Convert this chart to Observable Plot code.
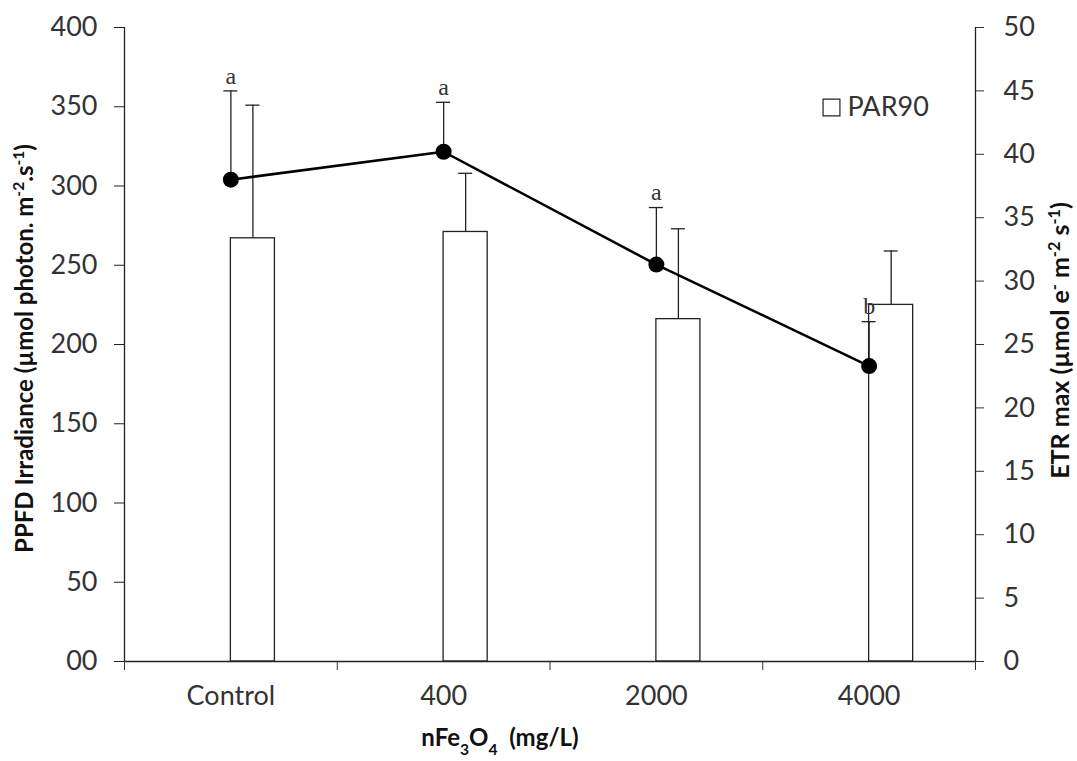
<!DOCTYPE html>
<html><head><meta charset="utf-8">
<script src="https://cdn.jsdelivr.net/npm/d3@7"></script>
<script src="https://cdn.jsdelivr.net/npm/@observablehq/plot@0.6"></script>
<style>body{margin:0;background:#fff}#chart svg{display:block}</style>
</head><body><div id="chart"></div>
<script>
// ---- data ----
const categories = ["Control", "400", "2000", "4000"];
const par90 = [267, 271, 216, 225];          // bars, left axis (PPFD)
const par90Err = [84, 37, 57, 34];
const etrMax = [38.0, 40.2, 31.3, 23.3];      // line, right axis (ETR max)
const etrErr = [7.0, 3.9, 4.5, 3.5];
const letters = ["a", "a", "a", "b"];
const leftTicks = [0, 50, 100, 150, 200, 250, 300, 350, 400];
const rightTicks = [0, 5, 10, 15, 20, 25, 30, 35, 40, 45, 50];

const k = 400 / 50;          // right-axis to left-axis factor
const barW = 0.207;          // bar width as fraction of category band
const cap = 0.033;           // half width of error caps

const rows = categories.map((c, i) => ({
  cat: c, center: i + 0.5,
  par: par90[i], parTop: par90[i] + par90Err[i],
  etr: etrMax[i] * k, etrTop: (etrMax[i] + etrErr[i]) * k,
  letter: letters[i]
}));

const font = "Lato, 'Open Sans', sans-serif";
const chart = Plot.plot({
  width: 1077, height: 761,
  marginLeft: 124, marginRight: 102, marginTop: 27, marginBottom: 100,
  style: {fontFamily: font, fontSize: "27px", color: "#333", background: "white"},
  x: {domain: [0, 4]},
  y: {domain: [0, 400]},
  marks: [
    Plot.rectY(rows, {x1: d => d.center, x2: d => d.center + barW, y1: 0, y2: "par", fill: "white", stroke: "#222", strokeWidth: 1.3}),
    Plot.ruleX(rows, {x: d => d.center + barW / 2, y1: "par", y2: "parTop", stroke: "#222", strokeWidth: 1.3}),
    Plot.ruleY(rows, {y: "parTop", x1: d => d.center + barW / 2 - cap, x2: d => d.center + barW / 2 + cap, stroke: "#222", strokeWidth: 1.3}),
    Plot.ruleX(rows, {x: "center", y1: "etr", y2: "etrTop", stroke: "#222", strokeWidth: 1.3}),
    Plot.ruleY(rows, {y: "etrTop", x1: d => d.center - cap, x2: d => d.center + cap, stroke: "#222", strokeWidth: 1.3}),
    Plot.line(rows, {x: "center", y: "etr", stroke: "black", strokeWidth: 2.5}),
    Plot.dot(rows, {x: "center", y: "etr", r: 8, fill: "black"}),
    Plot.text(rows, {x: "center", y: "etrTop", text: "letter", dy: -15, fontFamily: "'Liberation Serif', serif", fontSize: 24, fill: "#333"}),
    // axis lines
    Plot.ruleX([0, 4], {stroke: "#222", strokeWidth: 1.3}),
    Plot.ruleY([0], {stroke: "#222", strokeWidth: 1.3}),
    Plot.axisY({anchor: "left", ticks: leftTicks, tickSize: 10, tickPadding: 17, tickFormat: d => d === 0 ? "00" : String(d), label: null, stroke: "#222"}),
    Plot.axisY({anchor: "right", ticks: rightTicks.map(v => v * k), tickSize: 8, tickPadding: 20, tickFormat: d => String(d / k), label: null}),
    Plot.axisX({ticks: [0, 1, 2, 3, 4], tickSize: 9, tickFormat: () => "", label: null}),
    Plot.axisX({ticks: rows.map(d => d.center), tickSize: 0, tickPadding: 24, tickFormat: d => categories[Math.floor(d)], label: null}),
    // legend
    Plot.dot([0], {frameAnchor: "top-left", dx: 707, dy: 80, symbol: "square", r: 9.5, fill: "white", stroke: "#222", strokeWidth: 1.2}),
    Plot.text(["PAR90"], {frameAnchor: "top-left", dx: 723, dy: 80, textAnchor: "start", lineAnchor: "middle", fontSize: 27, fill: "#333"}),
    // axis titles
    Plot.text(["TITLE_LEFT"], {frameAnchor: "left", textAnchor: "middle", dx: -99, dy: 4, rotate: -90, fontWeight: "bold", fontSize: 24, fill: "#111"}),
    Plot.text(["TITLE_RIGHT"], {frameAnchor: "right", textAnchor: "middle", dx: 85, dy: -4, rotate: -90, fontWeight: "bold", fontSize: 25, fill: "#111"}),
    Plot.text(["TITLE_X"], {frameAnchor: "bottom", textAnchor: "middle", dx: -50, dy: 84, fontWeight: "bold", fontSize: 24, fill: "#111"})
  ]
});
document.getElementById("chart").append(chart);

// rich text (superscripts / subscripts) for the axis titles
const titles = {
  TITLE_LEFT: [["PPFD Irradiance (µmol photon. m"], ["-2", "sup"], [".s"], ["-1", "sup"], [")"]],
  TITLE_RIGHT: [["ETR max (µmol e"], ["-", "sup"], [" m"], ["-2", "sup"], [" s"], ["-1", "sup"], [")"]],
  TITLE_X: [["nFe"], ["3", "sub"], ["O"], ["4", "sub"], ["\u00a0\u00a0(mg/L)"]]
};
d3.select(chart).selectAll("text").each(function () {
  const key = this.textContent.trim();
  if (!titles[key]) return;
  const t = d3.select(this);
  t.text(null);
  for (const [s, kind] of titles[key]) {
    const sp = t.append("tspan").text(s);
    if (kind) sp.attr("baseline-shift", kind === "sup" ? "super" : "sub").attr("font-size", "65%");
  }
});
</script>
</body></html>
